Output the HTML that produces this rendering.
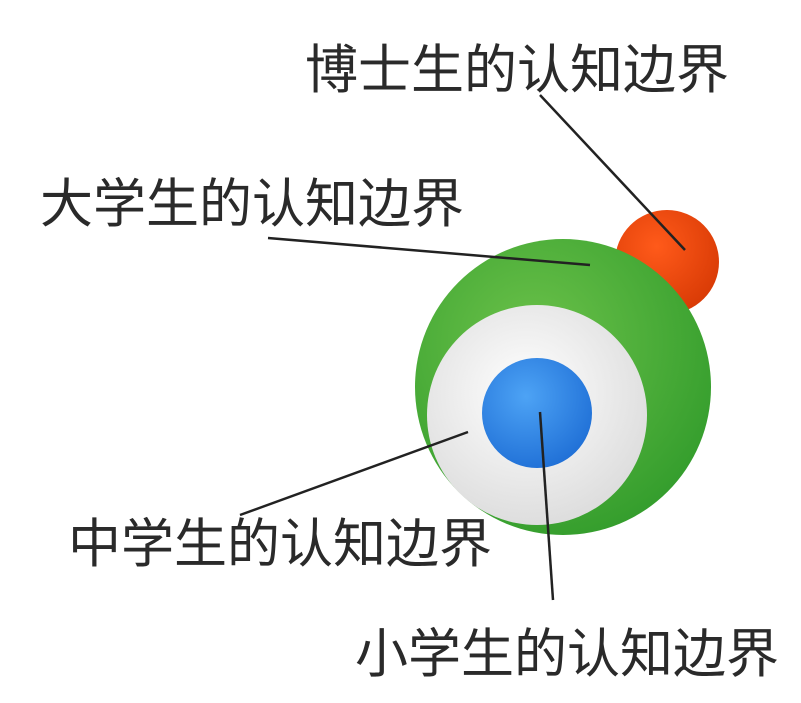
<!DOCTYPE html>
<html><head><meta charset="utf-8"><style>
html,body{margin:0;padding:0;background:#fff;width:801px;height:703px;overflow:hidden}
svg{display:block}
text{font-family:"Liberation Sans","Noto Sans CJK SC",sans-serif;font-size:53px;fill:#2a2a2a}
</style></head><body>
<svg width="801" height="703" viewBox="0 0 801 703">
<defs>
<radialGradient id="r" cx="0.4" cy="0.35" r="0.7"><stop offset="0" stop-color="#ff5a1a"/><stop offset="1" stop-color="#d83a05"/></radialGradient>
<radialGradient id="g" cx="0.4" cy="0.35" r="0.75"><stop offset="0" stop-color="#6cc24a"/><stop offset="1" stop-color="#2f9a2a"/></radialGradient>
<radialGradient id="w" cx="0.45" cy="0.4" r="0.7"><stop offset="0" stop-color="#ffffff"/><stop offset="1" stop-color="#d8d8d8"/></radialGradient>
<radialGradient id="b" cx="0.4" cy="0.35" r="0.7"><stop offset="0" stop-color="#4da3f5"/><stop offset="1" stop-color="#1f6fd6"/></radialGradient>
</defs>
<circle cx="667" cy="262" r="52" fill="url(#r)"/>
<circle cx="563" cy="387" r="148" fill="url(#g)"/>
<circle cx="537" cy="415" r="110" fill="url(#w)"/>
<circle cx="537" cy="413" r="55" fill="url(#b)"/>
<g stroke="#222" stroke-width="2.5" fill="none">
<line x1="540" y1="95" x2="685" y2="250"/>
<line x1="268" y1="238" x2="590" y2="265"/>
<line x1="240" y1="515" x2="468" y2="432"/>
<line x1="540" y1="412" x2="553" y2="600"/>
</g>
<text x="305" y="88">博士生的认知边界</text>
<text x="40" y="222">大学生的认知边界</text>
<text x="68" y="562">中学生的认知边界</text>
<text x="355" y="672">小学生的认知边界</text>
</svg>
</body></html>
